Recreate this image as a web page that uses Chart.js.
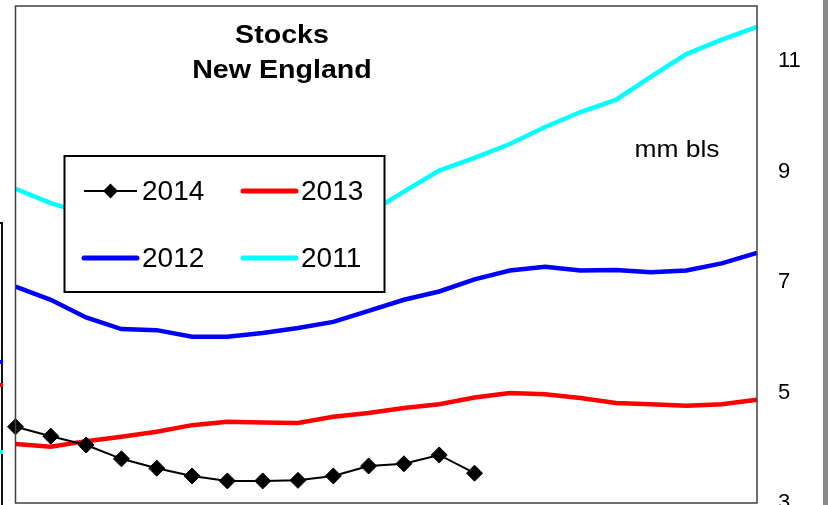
<!DOCTYPE html>
<html>
<head>
<meta charset="utf-8">
<script src="https://cdn.jsdelivr.net/npm/chart.js@4"></script>
<style>
  body { margin: 0; background: #fff; }
  #wrap { position: relative; width: 828px; height: 505px; overflow: hidden; }
  /* the line markers force 9px of padding, so the canvas is shifted up to compensate */
  #box { position: absolute; left: 0; top: -3px; width: 828px; height: 515px; }
  #edgeLeft { position: absolute; left: 0; top: 222px; width: 1px; height: 290px; border-right: 2px solid #111; border-top: 2px solid #111; }
  #edgeRight { position: absolute; left: 823px; top: 0; width: 5px; height: 505px; background: #8a8a8a; }
  .dot { position: absolute; left: 0; width: 3px; height: 4px; }
</style>
</head>
<body>
<div id="wrap">
  <div id="box"><canvas id="stocks"></canvas></div>
  <div id="edgeLeft"></div>
  <div class="dot" style="top:360px;background:#0000ff"></div>
  <div class="dot" style="top:383px;background:#ff0000"></div>
  <div class="dot" style="top:450px;background:#00ffff"></div>
  <div id="edgeRight"></div>
</div>
<script>
var weeks = ['1', '2', '3', '4', '5', '6', '7', '8', '9', '10', '11',
             '12', '13', '14', '15', '16', '17', '18', '19', '20', '21', '22'];
var stocks2014 = [4.38, 4.21, 4.05, 3.80, 3.63, 3.49, 3.40, 3.40, 3.41, 3.49, 3.67,
                  3.71, 3.87, 3.54, null, null, null, null, null, null, null, null];
var stocks2013 = [4.07, 4.02, 4.12, 4.20, 4.29, 4.41, 4.47, 4.46, 4.45, 4.56, 4.63,
                  4.72, 4.79, 4.91, 4.99, 4.97, 4.90, 4.81, 4.79, 4.76, 4.79, 4.87];
var stocks2012 = [6.92, 6.68, 6.36, 6.15, 6.13, 6.01, 6.01, 6.08, 6.17, 6.28, 6.48,
                  6.68, 6.83, 7.05, 7.21, 7.28, 7.21, 7.22, 7.18, 7.21, 7.34, 7.53];
var stocks2011 = [8.69, 8.43, 8.24, 8.14, 8.06, 8.01, 7.99, 8.01, 8.05, 8.12, 8.25,
                  8.64, 9.02, 9.25, 9.50, 9.81, 10.08, 10.30, 10.72, 11.13, 11.39, 11.62];
var yTicks = [3, 5, 7, 9, 11];

var FONT = "'Liberation Sans', Arial, sans-serif";

function wideText(ctx, text, x, y, sx) {
    ctx.save();
    ctx.translate(x, y);
    ctx.scale(sx, 1);
    ctx.textAlign = 'center';
    ctx.fillText(text, 0, 0);
    ctx.restore();
}

// frame, boxed legend and the text labels
var decor = {
    id: 'decor',
    afterDatasetsDraw: function (chart) {
        var ctx = chart.ctx;
        var a = chart.chartArea;
        ctx.save();
        ctx.strokeStyle = '#404040';
        ctx.lineWidth = 1.5;
        ctx.strokeRect(a.left, a.top, a.right - a.left, a.bottom - a.top);

        var bx = a.left + 49, by = a.top + 150, bw = 320, bh = 136;
        ctx.fillStyle = '#fff';
        ctx.fillRect(bx, by, bw, bh);
        ctx.strokeStyle = '#000';
        ctx.lineWidth = 2;
        ctx.strokeRect(bx, by, bw, bh);

        ctx.font = '28px ' + FONT;
        ctx.textBaseline = 'middle';
        chart.data.datasets.forEach(function (ds, i) {
            var x0 = bx + 19.5 + (i % 2) * 159;
            var y0 = by + 35 + Math.floor(i / 2) * 67;
            ctx.strokeStyle = ds.borderColor;
            ctx.lineWidth = ds.pointRadius ? 2 : 5;
            ctx.lineCap = ds.pointRadius ? 'butt' : 'round';
            ctx.beginPath();
            ctx.moveTo(x0, y0);
            ctx.lineTo(x0 + 53, y0);
            ctx.stroke();
            if (ds.pointRadius) {
                ctx.fillStyle = ds.pointBackgroundColor;
                Chart.helpers.drawPoint(ctx, {pointStyle: ds.pointStyle, radius: 6, rotation: 0, borderWidth: 1}, x0 + 26.5, y0);
            }
            ctx.fillStyle = '#000';
            ctx.textAlign = 'left';
            ctx.fillText(ds.label, x0 + 58, y0 + 1);
        });

        var top = a.top - 6;
        ctx.textBaseline = 'alphabetic';
        ctx.fillStyle = '#000';
        ctx.font = 'bold 26px ' + FONT;
        wideText(ctx, 'Stocks', 282, top + 43, 1.1);
        wideText(ctx, 'New England', 282, top + 78, 1.1);
        ctx.font = '24px ' + FONT;
        wideText(ctx, 'mm bls', 677, top + 157, 1.1);
        ctx.restore();
    }
};

window.addEventListener('load', function () {
    var ctx = document.getElementById('stocks').getContext('2d');
    var stocksChart = new Chart(ctx, {
        type: 'line',
        data: {
            labels: weeks,
            datasets: [
                {
                    label: '2014',
                    data: stocks2014,
                    borderColor: '#000000',
                    borderWidth: 2,
                    pointStyle: 'rectRot',
                    pointRadius: 8,
                    pointBackgroundColor: '#000000',
                    pointBorderColor: '#000000',
                    pointBorderWidth: 1
                },
                {
                    label: '2013',
                    data: stocks2013,
                    borderColor: '#ff0000',
                    borderWidth: 4.5,
                    pointRadius: 0
                },
                {
                    label: '2012',
                    data: stocks2012,
                    borderColor: '#0000ff',
                    borderWidth: 4.5,
                    pointRadius: 0
                },
                {
                    label: '2011',
                    data: stocks2011,
                    borderColor: '#00ffff',
                    borderWidth: 4.5,
                    pointRadius: 0
                }
            ]
        },
        options: {
            responsive: true,
            maintainAspectRatio: false,
            animation: false,
            layout: {
                padding: {left: 15.5, top: 0, right: 0, bottom: 0}
            },
            elements: {
                line: {tension: 0}
            },
            scales: {
                x: {
                    display: false,
                    offset: false
                },
                y: {
                    position: 'right',
                    min: 3,
                    max: 12,
                    grid: {display: false, drawTicks: false},
                    border: {display: false},
                    ticks: {
                        color: '#000',
                        padding: 21,
                        font: {family: FONT, size: 22}
                    },
                    afterBuildTicks: function (scale) {
                        scale.ticks = yTicks.map(function (v) { return {value: v}; });
                    },
                    afterFit: function (scale) {
                        scale.width = 71;
                        scale.paddingTop = 0;
                        scale.paddingBottom = 0;
                    }
                }
            },
            plugins: {
                legend: {display: false},
                title: {display: false},
                tooltip: {enabled: false}
            }
        },
        plugins: [decor]
    });
});
</script>
</body>
</html>
